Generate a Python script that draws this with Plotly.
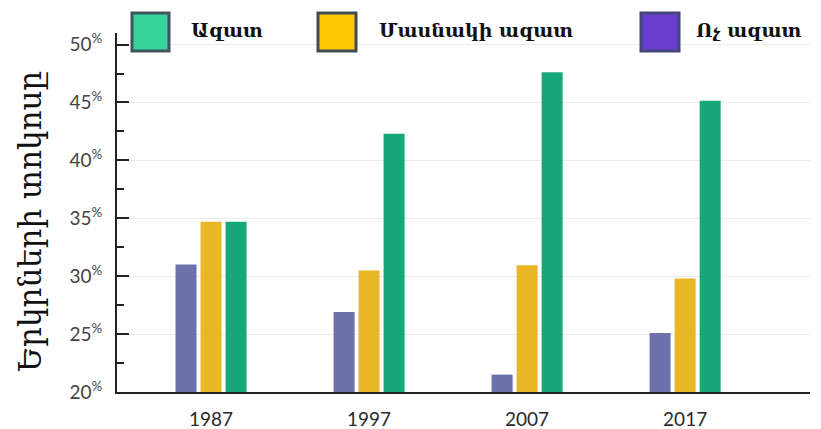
import plotly.graph_objects as go

years = ["1987", "1997", "2007", "2017"]
not_free = [31.0, 26.9, 21.5, 25.1]
partly_free = [34.7, 30.5, 30.95, 29.8]
free = [34.7, 42.3, 47.6, 45.15]

series_names = ["Ոչ ազատ", "Մասնակի ազատ", "Ազատ"]
bar_colors = ["#6E72AC", "#E8B626", "#17A87A"]
legend_colors = ["#6A3DCF", "#FFC906", "#37D39C"]
legend_border = ["#44467a", "#3f4c57", "#3f5560"]

y_ticks = [20, 25, 30, 35, 40, 45, 50]
y_ticktext = [f"{v}<sup>%</sup>" for v in y_ticks]
y_title = "Երկրների տոկոսը"
BASE = 20

fig = go.Figure()
for name, vals, col in zip(series_names, [not_free, partly_free, free], bar_colors):
    fig.add_trace(go.Bar(x=years, y=[v - BASE for v in vals], base=BASE, name=name,
                         marker=dict(color=col, line=dict(width=0)), showlegend=False))

fig.update_layout(
    width=821, height=429,
    margin=dict(l=117, r=11, t=33, b=37, autoexpand=False),
    paper_bgcolor="white", plot_bgcolor="white",
    barmode="group", bargap=0.525, bargroupgap=0.16,
    font=dict(family="Lato, Open Sans, sans-serif", color="#333"),
)
fig.update_xaxes(
    type="category", range=[-0.595, 3.79], automargin=False,
    showline=True, linecolor="#222", linewidth=2,
    ticks="", tickfont=dict(size=19, color="#2a2a2a"), ticklabelstandoff=9,
    showgrid=False,
)
fig.update_yaxes(
    range=[20, 51], tickvals=y_ticks, ticktext=y_ticktext, automargin=False,
    showline=True, linecolor="#222", linewidth=2,
    ticks="inside", ticklen=12, tickwidth=2, tickcolor="#222",
    minor=dict(dtick=2.5, ticks="inside", ticklen=7, tickwidth=2, tickcolor="#222", showgrid=False),
    showgrid=True, gridcolor="#ececec", gridwidth=1,
    tickfont=dict(size=19, color="#444"), ticklabelstandoff=9,
    zeroline=False,
)

# y-axis title as rotated text
fig.add_annotation(xref="paper", yref="paper", x=(30 - 117) / 693, y=(392 - 222) / 359,
                   xanchor="center", yanchor="middle", textangle=-90, showarrow=False,
                   text=y_title, font=dict(family="DejaVu Serif", size=31, color="#111"))

# custom legend
legend_items = [
    (132, 169, 189, "Ազատ", 2),
    (318, 356, 377, "Մասնակի ազատ", 1),
    (641, 679, 694, "Ոչ ազատ", 0),
]
for x0, x1, tx, label, idx in legend_items:
    fig.add_shape(type="rect", xref="paper", yref="paper",
                  x0=(x0 - 117) / 693, x1=(x1 - 117) / 693,
                  y0=(392 - 51) / 359, y1=(392 - 13) / 359,
                  fillcolor=legend_colors[idx], line=dict(color=legend_border[idx], width=3),
                  layer="above")
    fig.add_annotation(xref="paper", yref="paper", x=(tx - 117) / 693, y=(392 - 30) / 359,
                       xanchor="left", yanchor="middle", showarrow=False,
                       text=f"<b>{label}</b>",
                       font=dict(family="DejaVu Serif", size=19, color="#111"))

fig.write_html("out.html", config={"displayModeBar": False},
               post_script="document.body.style.margin='0';document.body.style.padding='0';")
